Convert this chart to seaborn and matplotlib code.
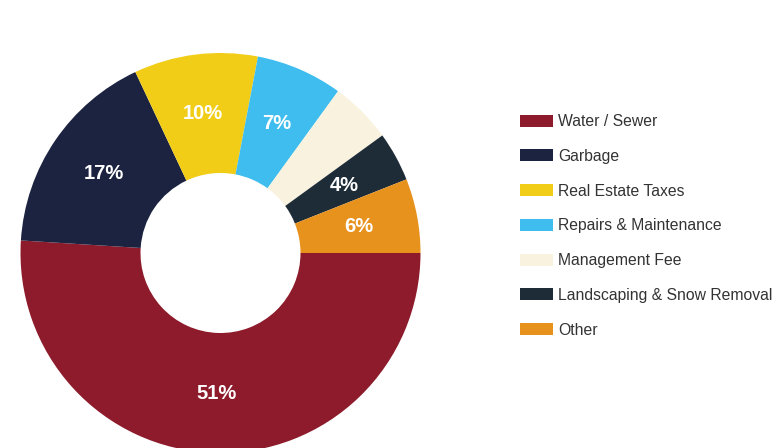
import matplotlib
matplotlib.use("Agg")
import matplotlib.pyplot as plt
import seaborn as sns
import numpy as np

categories = ["Water / Sewer", "Garbage", "Real Estate Taxes", "Repairs & Maintenance",
              "Management Fee", "Landscaping & Snow Removal", "Other"]
values = [51, 17, 10, 7, 5, 4, 6]
pct_labels = ["51%", "17%", "10%", "7%", "", "4%", "6%"]
colors = ["#8E1B2B", "#1B2340", "#F2CD17", "#3FBDEE", "#F8F2DE", "#1E2C38", "#E8921E"]

sns.set_theme(style="white")
plt.rcParams['font.family'] = ['Liberation Sans', 'DejaVu Sans']

fig = plt.figure(figsize=(7.82, 4.48), dpi=100)
ax = fig.add_axes([0, 0, 1, 1])

wedges, _ = ax.pie(values, colors=colors, startangle=0, counterclock=False,
                   center=(220.5, 195), radius=200,
                   wedgeprops=dict(width=120, linewidth=0), frame=True)
ax.set_xlim(0, 782)
ax.set_ylim(0, 448)
ax.set_aspect('equal')
ax.axis('off')

cum = 0.0
total = sum(values)
for v, lab in zip(values, pct_labels):
    mid = -(cum + v / 2) / total * 360.0
    cum += v
    if not lab:
        continue
    r = 141
    x = 220.5 + r * np.cos(np.radians(mid))
    y = 195 + r * np.sin(np.radians(mid))
    ax.text(x, y, lab, ha='center', va='center', color='white',
            fontsize=14.5, fontweight='bold')

leg = ax.legend(wedges, categories, loc='upper left', bbox_to_anchor=(520 / 782, 1 - 114 / 448),
                frameon=False, fontsize=11.3, handlelength=2.1, handleheight=0.8,
                handletextpad=0.32, labelspacing=1.26, borderpad=0, borderaxespad=0)
for t in leg.get_texts():
    t.set_color('#333333')

fig.savefig("out.png", dpi=100, facecolor='white')
